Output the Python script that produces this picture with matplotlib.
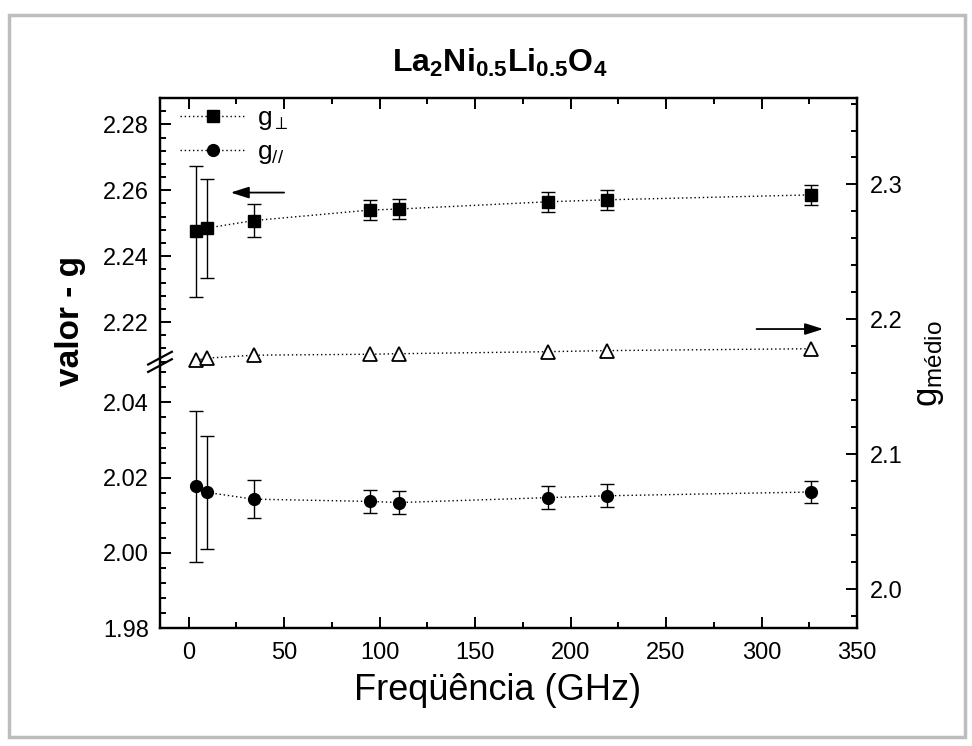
import numpy as np
import matplotlib
matplotlib.use("Agg")
import matplotlib.pyplot as plt
from matplotlib.patches import Rectangle
from matplotlib.ticker import FixedLocator, NullFormatter, MultipleLocator, FormatStrFormatter

plt.rcParams['font.family'] = ['Liberation Sans', 'DejaVu Sans']
plt.rcParams['mathtext.fontset'] = 'custom'
plt.rcParams['mathtext.rm'] = 'Liberation Sans'
plt.rcParams['mathtext.it'] = 'Liberation Sans:italic'
plt.rcParams['mathtext.bf'] = 'Liberation Sans:bold'

# ---------------- data ----------------
freq = [4, 9.5, 34, 95, 110, 188, 219, 326]
g_perp = [2.2475, 2.2485, 2.2508, 2.2540, 2.2543, 2.2565, 2.2571, 2.2586]
g_perp_err = [0.020, 0.015, 0.005, 0.003, 0.003, 0.003, 0.003, 0.003]
g_par = [2.0177, 2.0161, 2.0143, 2.0137, 2.0134, 2.0147, 2.0152, 2.0162]
g_par_err = [0.020, 0.015, 0.005, 0.003, 0.003, 0.003, 0.003, 0.003]
g_med = [2.1697, 2.1712, 2.1734, 2.1741, 2.1745, 2.1760, 2.1768, 2.1782]

left_major = [1.98, 2.00, 2.02, 2.04, 2.22, 2.24, 2.26, 2.28]
right_major = [2.0, 2.1, 2.2, 2.3]

# ---------------- broken-axis scale ----------------
seg_b = (1.98, 2.0507)
seg_t = (2.208, 2.288)
sb = 3765.0
pb = (seg_b[1] - seg_b[0]) * sb
gap = 0.5
total = 530.3
st = (total - pb - gap) / (seg_t[1] - seg_t[0])
xs = np.array([1.0, seg_b[0], seg_b[1], seg_t[0], seg_t[1], 3.0])
ps = np.array([-(seg_b[0] - 1.0) * sb, 0.0, pb, pb + gap, total, total + (3.0 - seg_t[1]) * st])

def fwd(y):
    return np.interp(y, xs, ps)

def inv(p):
    return np.interp(p, ps, xs)

fig = plt.figure(figsize=(9.72, 7.46), dpi=100)
W, H = 972.0, 746.0
L, R, T, B = 160, 857, 98, 628.3
ax = fig.add_axes([L / W, 1 - B / H, (R - L) / W, (B - T) / H])
ax.set_yscale('function', functions=(fwd, inv))
ax.set_ylim(1.98, 2.288)
ax.set_xlim(-15, 350)

ls_dot = (0, (1, 2))
lp, = ax.plot(freq, g_perp, ls=ls_dot, lw=1, color='black', marker='s', ms=8.5,
              mfc='black', mec='black', label=r'g$_{\perp}$', zorder=3)
ax.errorbar(freq, g_perp, yerr=g_perp_err, fmt='none', ecolor='black', elinewidth=1,
            capsize=5, capthick=1, zorder=2)
lc, = ax.plot(freq, g_par, ls=ls_dot, lw=1, color='black', marker='o', ms=8.5,
              mfc='black', mec='black', label=r'g$_{//}$', zorder=3)
ax.errorbar(freq, g_par, yerr=g_par_err, fmt='none', ecolor='black', elinewidth=1,
            capsize=5, capthick=1, zorder=2)

ax.yaxis.set_major_locator(FixedLocator(left_major))
minors = [v for v in np.round(np.arange(1.98, 2.29, 0.004), 3)
          if (v <= seg_b[1] or v >= seg_t[0]) and v not in left_major]
ax.yaxis.set_minor_locator(FixedLocator(minors))
ax.yaxis.set_major_formatter(FormatStrFormatter('%.2f'))
ax.yaxis.set_minor_formatter(NullFormatter())
ax.xaxis.set_major_locator(MultipleLocator(50))
ax.xaxis.set_minor_locator(MultipleLocator(25))

for s in ax.spines.values():
    s.set_linewidth(1.6)
ax.tick_params(which='both', direction='in', top=True, right=False, labelsize=17, width=1.4)
ax.tick_params(which='major', length=8)
ax.tick_params(which='minor', length=4.5)
ax.tick_params(axis='y', pad=8)
ax.tick_params(axis='x', pad=10)

ax.set_xlabel('Freqüência (GHz)', fontsize=26, labelpad=4)
ax.xaxis.set_label_coords(0.485, -0.085)
ax.set_ylabel('valor - g', fontsize=24, fontweight='bold', labelpad=10)
ax.yaxis.set_label_coords(-0.106, 0.58)

# break marks on the left spine
ybr = (pb + gap / 2) / total
for dy in (-0.007, 0.007):
    ax.plot([-0.017, 0.017], [ybr + dy - 0.012, ybr + dy + 0.012], transform=ax.transAxes,
            color='black', lw=1.6, clip_on=False, zorder=5)

ax.annotate('', xy=(22, 2.2593), xytext=(50, 2.2593),
            arrowprops=dict(arrowstyle='-|>,head_length=1.1,head_width=0.35',
                            mutation_scale=10, color='black', lw=1.3, shrinkA=0, shrinkB=0))

leg = ax.legend(handles=[lp, lc], loc='upper left', bbox_to_anchor=(0.018, 1.0), frameon=False,
                fontsize=19, handlelength=2.45, handletextpad=0.45, borderpad=0.0,
                labelspacing=0.3, borderaxespad=0.3)

# right axis
ax2 = ax.twinx()
ax2.set_ylim(1.9709, 2.3641)
ax2.plot(freq, g_med, ls=ls_dot, lw=1, color='black', marker='^', ms=9.5,
         mfc='white', mec='black', mew=1.3)
ax2.yaxis.set_major_locator(FixedLocator(right_major))
ax2.yaxis.set_minor_locator(MultipleLocator(0.02))
ax2.yaxis.set_major_formatter(FormatStrFormatter('%.1f'))
for s in ax2.spines.values():
    s.set_linewidth(1.6)
ax2.tick_params(which='both', direction='in', labelsize=17, width=1.4, pad=9)
ax2.tick_params(which='major', length=8)
ax2.tick_params(which='minor', length=4.5)
ax2.set_ylabel(r'g$_{\rm médio}$', fontsize=25, labelpad=8)
ax2.annotate('', xy=(332.3, 2.1928), xytext=(297.4, 2.1928),
             arrowprops=dict(arrowstyle='-|>,head_length=1.1,head_width=0.35',
                             mutation_scale=10, color='black', lw=1.3, shrinkA=0, shrinkB=0))

fig.text(500 / W, 1 - 63 / H, r'$\mathbf{La_2Ni_{0.5}Li_{0.5}O_4}$', ha='center', va='center', fontsize=23)

fig.patches.append(Rectangle((9 / W, 1 - 737 / H), (965 - 9) / W, (737 - 15) / H,
                             transform=fig.transFigure, fill=False, edgecolor='#bdbdbd', lw=2.5))

fig.savefig('out.png', dpi=100)
